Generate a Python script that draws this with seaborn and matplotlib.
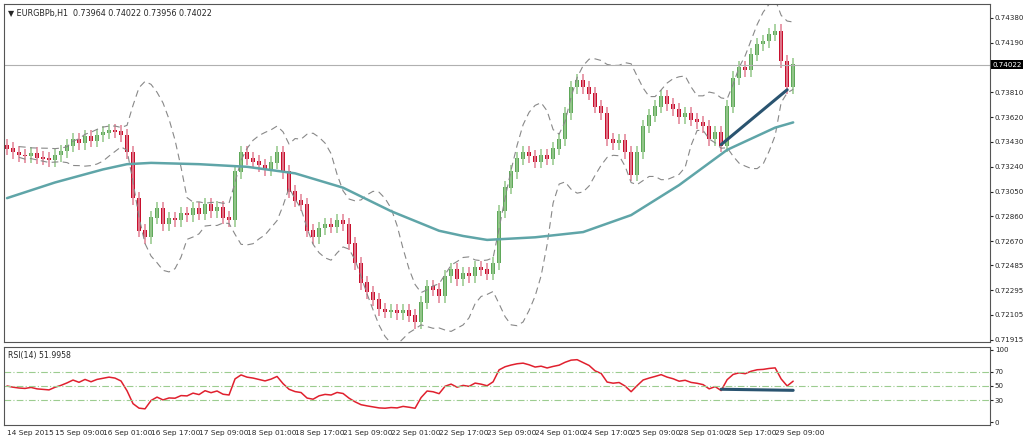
import numpy as np
import pandas as pd
import matplotlib
matplotlib.use("Agg")
import matplotlib.pyplot as plt
import seaborn as sns

sns.set_style("white")
plt.rcParams['font.family'] = ['DejaVu Sans']

# 2-hour closes, in units of 0.0001 (EURGBP)
closes = [7338, 7335, 7333, 7332, 7334, 7331, 7330, 7329, 7333, 7336,
          7340, 7345, 7342, 7347, 7344, 7348, 7350, 7352, 7351, 7348,
          7335, 7300, 7275, 7270, 7285, 7292, 7280, 7284, 7283, 7288,
          7287, 7292, 7288, 7295, 7290, 7293, 7285, 7283, 7320, 7335,
          7330, 7328, 7325, 7322, 7327, 7335, 7320, 7305, 7298, 7295,
          7275, 7270, 7277, 7280, 7278, 7283, 7280, 7265, 7250, 7235,
          7228, 7222, 7215, 7213, 7214, 7212, 7214, 7210, 7205, 7220,
          7232, 7230, 7225, 7240, 7245, 7238, 7242, 7240, 7247, 7245,
          7242, 7250, 7290, 7308, 7320, 7330, 7335, 7332, 7328, 7333,
          7330, 7338, 7345, 7365, 7385, 7390, 7385, 7380, 7370, 7365,
          7345, 7342, 7344, 7335, 7318, 7335, 7355, 7363, 7370, 7378,
          7372, 7368, 7362, 7365, 7360, 7358, 7355, 7345, 7350, 7340,
          7370, 7392, 7400, 7398, 7410, 7418, 7420, 7425, 7428, 7405,
          7385, 7402.2]
ma_bars = [0, 8, 16, 20, 24, 32, 40, 48, 56, 64, 72, 76, 80, 88, 96, 104, 112, 120, 128, 131]
ma_vals = [7300, 7312, 7322, 7326, 7327, 7326, 7324, 7319, 7308, 7290, 7275, 7271, 7268, 7270,
           7274, 7287, 7310, 7337, 7354, 7358]
price_ticks = [0.74380, 0.74190, 0.73810, 0.73620, 0.73430, 0.73240, 0.73050,
               0.72860, 0.72670, 0.72485, 0.72295, 0.72105, 0.71915]
date_labels = ["14 Sep 2015", "15 Sep 09:00", "16 Sep 01:00", "16 Sep 17:00", "17 Sep 09:00",
               "18 Sep 01:00", "18 Sep 17:00", "21 Sep 09:00", "22 Sep 01:00", "22 Sep 17:00",
               "23 Sep 09:00", "24 Sep 01:00", "24 Sep 17:00", "25 Sep 09:00", "28 Sep 01:00",
               "28 Sep 17:00", "29 Sep 09:00"]

c = np.array(closes) / 10000.0
o = np.concatenate([[c[0] + 0.0002], c[:-1]])
hi = np.maximum(o, c) + 0.0005
lo = np.minimum(o, c) - 0.0005
n = len(c)
idx = np.arange(n)
df = pd.DataFrame({"bar": idx, "open": o, "close": c, "high": hi, "low": lo})
mid = df["close"].rolling(10, min_periods=3).mean()
sd = df["close"].rolling(10, min_periods=3).std(ddof=0)
df["upper"] = mid + 2 * sd
df["lower"] = mid - 2 * sd

# RSI (Wilder), seeded neutral
d = df["close"].diff().fillna(0)
up = d.clip(lower=0)
dn = -d.clip(upper=0)
up.iloc[0] = dn.iloc[0] = 0.0004
up = up.ewm(alpha=1 / 12, adjust=False).mean()
dn = dn.ewm(alpha=1 / 12, adjust=False).mean()
df["rsi"] = 100 - 100 / (1 + up / dn)

fig = plt.figure(figsize=(10.24, 4.43), dpi=100)
ax = fig.add_axes([4 / 1024, 101 / 443, 986 / 1024, 338 / 443])
ax2 = fig.add_axes([4 / 1024, 18 / 443, 986 / 1024, 78 / 443])

green, red = "#5fa85a", "#c8102e"
for i in idx:
    col = green if c[i] >= o[i] else red
    wcol = "#9ccc92" if col == green else "#e48a9c"
    ax.vlines(i, lo[i], hi[i], color=wcol, lw=1.2)
    ax.bar(i, abs(c[i] - o[i]) + 0.00004, bottom=min(o[i], c[i]), width=0.6, color=col, lw=0)

ax.plot(idx, df["upper"], color="#888888", lw=0.8, dashes=(6, 4))
ax.plot(idx, df["lower"], color="#888888", lw=0.8, dashes=(6, 4))
sns.lineplot(x=ma_bars, y=np.array(ma_vals) / 10000.0, ax=ax, color="#5fa5a8", lw=1.8)
ax.plot([119, 130], [0.7341, 0.7383], color="#2a5470", lw=2.2)
ax.axhline(c[-1], color="#b0b0b0", lw=0.8)

ax.set_xlim(-0.5, 163.8)
ax.set_ylim(0.71898, 0.74487)
ax.yaxis.tick_right()
ax.set_yticks(price_ticks)
ax.set_yticklabels([f"{t:.5f}" for t in price_ticks], fontsize=5.1)
ax.set_xticks([])
ax.tick_params(axis="y", length=2, pad=1.5)
ax.text(164.2, c[-1], f"{c[-1]:.5f}", fontsize=5.1, color="white", va="center", ha="left",
        bbox=dict(facecolor="black", edgecolor="none", pad=1))
ax.text(0.004, 0.985, "\u25bc EURGBPb,H1  0.73964 0.74022 0.73956 0.74022", transform=ax.transAxes,
        fontsize=5.8, va="top", ha="left")

sns.lineplot(data=df, x="bar", y="rsi", ax=ax2, color="#e0202e", lw=1.1)
for lv in (30, 50, 70):
    ax2.axhline(lv, color="#9ccc90", lw=0.8, dashes=(6, 2, 1, 2))
ax2.plot([119, 131], [45.5, 44.0], color="#2a5470", lw=2.2)
ax2.set_xlim(-0.5, 163.8)
ax2.set_ylim(-4, 104)
ax2.yaxis.tick_right()
ax2.set_yticks([0, 30, 50, 70, 100])
ax2.set_yticklabels(["0", "30", "50", "70", "100"], fontsize=5.1)
ax2.set_ylabel("")
ax2.set_xlabel("")
ax2.set_xticks(np.arange(len(date_labels)) * 8)
ax2.set_xticklabels(date_labels, fontsize=5.3, ha="left")
ax2.tick_params(axis="both", length=2, pad=1.5)
ax2.text(0.004, 0.95, "RSI(14) 51.9958", transform=ax2.transAxes, fontsize=5.6, va="top", ha="left")
for a in (ax, ax2):
    for s in a.spines.values():
        s.set_color("#555555")
        s.set_linewidth(0.8)

fig.savefig("out.png", dpi=100)
